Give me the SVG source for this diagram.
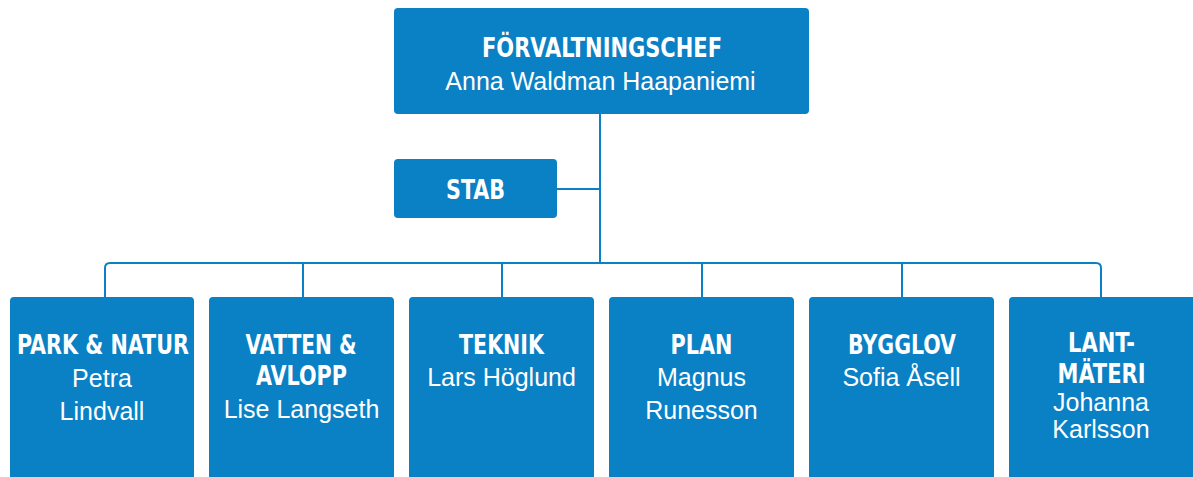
<svg xmlns="http://www.w3.org/2000/svg" width="1193" height="477" viewBox="0 0 1193 477">
<style>
.box{fill:#0A80C5}
.con{fill:none;stroke:#0A80C5;stroke-width:2}
.t{font-family:"DejaVu Sans Condensed","Liberation Sans",sans-serif;font-weight:bold;font-size:26px;fill:#fff;text-anchor:middle}
.n{font-family:"Liberation Sans","Roboto",sans-serif;font-size:25px;fill:#fff;text-anchor:middle}
</style>
<rect width="1193" height="477" fill="#fff"/>
<g id="connectors">
<path class="con" d="M600 114V263"/>
<path class="con" d="M557 189H600"/>
<path class="con" d="M105 297V268Q105 263 110 263H1096Q1101 263 1101 268V297"/>
<path class="con" d="M303 263V297M502 263V297M702 263V297M902 263V297"/>
</g>
<g id="chef">
<rect class="box" x="394" y="8" width="415" height="106" rx="4"/>
<text class="t" x="602" y="57" textLength="240" lengthAdjust="spacingAndGlyphs">FÖRVALTNINGSCHEF</text>
<text class="n" x="600.5" y="90">Anna Waldman Haapaniemi</text>
</g>
<g id="stab">
<rect class="box" x="394" y="159" width="163" height="59" rx="4"/>
<text class="t" x="475.5" y="199" textLength="59" lengthAdjust="spacingAndGlyphs">STAB</text>
</g>
<g id="park">
<rect class="box" x="10" y="297" width="184" height="190" rx="4"/>
<text class="t" x="103" y="354" textLength="172" lengthAdjust="spacingAndGlyphs">PARK &amp; NATUR</text>
<text class="n" x="102" y="387">Petra</text>
<text class="n" x="102" y="420">Lindvall</text>
</g>
<g id="vatten">
<rect class="box" x="209" y="297" width="185" height="190" rx="4"/>
<text class="t" x="301" y="354" textLength="111" lengthAdjust="spacingAndGlyphs">VATTEN &amp;</text>
<text class="t" x="301.5" y="385" textLength="91" lengthAdjust="spacingAndGlyphs">AVLOPP</text>
<text class="n" x="301.5" y="418">Lise Langseth</text>
</g>
<g id="teknik">
<rect class="box" x="409" y="297" width="185" height="190" rx="4"/>
<text class="t" x="501.5" y="354" textLength="85" lengthAdjust="spacingAndGlyphs">TEKNIK</text>
<text class="n" x="501.5" y="386">Lars Höglund</text>
</g>
<g id="plan">
<rect class="box" x="609" y="297" width="185" height="190" rx="4"/>
<text class="t" x="701.5" y="354" textLength="62" lengthAdjust="spacingAndGlyphs">PLAN</text>
<text class="n" x="701.5" y="386">Magnus</text>
<text class="n" x="701.5" y="419">Runesson</text>
</g>
<g id="bygglov">
<rect class="box" x="809" y="297" width="185" height="190" rx="4"/>
<text class="t" x="902" y="354" textLength="108" lengthAdjust="spacingAndGlyphs">BYGGLOV</text>
<text class="n" x="901.5" y="386">Sofia Åsell</text>
</g>
<g id="lantmateri">
<rect class="box" x="1009" y="297" width="190" height="190" rx="4"/>
<text class="t" x="1101.5" y="352" textLength="67" lengthAdjust="spacingAndGlyphs">LANT-</text>
<text class="t" x="1101.5" y="383" textLength="88" lengthAdjust="spacingAndGlyphs">MÄTERI</text>
<text class="n" x="1101" y="411">Johanna</text>
<text class="n" x="1101" y="438">Karlsson</text>
</g>
</svg>
